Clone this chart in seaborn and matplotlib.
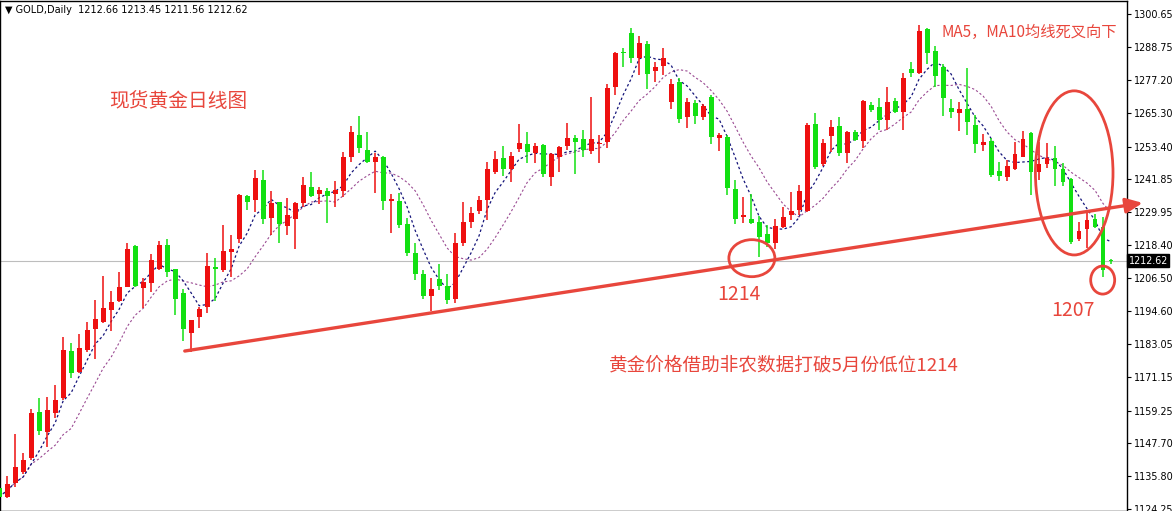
import numpy as np
import pandas as pd
import matplotlib as mpl
mpl.use('Agg')
import matplotlib.pyplot as plt
from matplotlib.patches import Ellipse
import seaborn as sns

# daily OHLC (oldest first)
opens = [1131.7, 1128.5, 1133.5, 1137.4, 1142.4, 1158.8, 1151.6, 1158.4, 1163.8, 1180.5,
         1173.0, 1180.9, 1188.4, 1190.9, 1195.1, 1198.3, 1203.3, 1217.9, 1203.0, 1204.8,
         1209.7, 1218.3, 1209.7, 1201.2, 1186.9, 1192.6, 1196.2, 1210.5, 1209.4, 1215.8,
         1220.4, 1235.8, 1234.3, 1241.5, 1227.9, 1233.6, 1225.1, 1227.6, 1233.3, 1239.0,
         1236.5, 1237.6, 1236.5, 1237.6, 1249.7, 1257.5, 1252.2, 1247.9, 1249.7, 1234.0,
         1234.0, 1225.8, 1215.5, 1208.0, 1200.1, 1206.2, 1203.7, 1199.1, 1219.0, 1226.5,
         1230.4, 1234.3, 1244.3, 1249.3, 1245.4, 1252.5, 1254.3, 1251.1, 1254.0, 1242.5,
         1249.7, 1253.6, 1256.4, 1256.1, 1251.8, 1254.3, 1255.0, 1274.6, 1287.1, 1293.9,
         1285.0, 1290.0, 1280.3, 1282.1, 1269.3, 1276.4, 1263.9, 1268.9, 1263.9, 1271.1,
         1256.4, 1256.8, 1238.3, 1228.3, 1227.6, 1226.5, 1222.2, 1219.0, 1224.7, 1229.0,
         1230.8, 1230.4, 1261.4, 1247.2, 1257.2, 1260.7, 1251.1, 1258.6, 1255.4, 1268.2,
         1267.5, 1262.9, 1269.6, 1265.7, 1281.0, 1279.6, 1295.3, 1287.5, 1281.8, 1267.1,
         1265.4, 1266.8, 1261.1, 1254.0, 1255.4, 1244.7, 1242.5, 1245.4, 1249.7, 1258.2,
         1244.3, 1247.2, 1249.3, 1245.4, 1241.8, 1220.4, 1224.0, 1227.6, 1224.7, 1212.66]
highs = [1132.7, 1136.0, 1150.9, 1144.2, 1159.8, 1163.8, 1164.1, 1168.4, 1185.5, 1183.4,
         1186.6, 1190.9, 1198.7, 1207.3, 1201.9, 1208.7, 1219.0, 1218.3, 1206.5, 1215.1,
         1219.7, 1220.4, 1209.9, 1202.6, 1191.7, 1196.2, 1215.5, 1213.7, 1225.4, 1221.9,
         1236.5, 1236.1, 1245.0, 1245.0, 1237.6, 1233.8, 1235.1, 1233.5, 1242.5, 1244.3,
         1239.0, 1238.6, 1241.1, 1251.5, 1260.7, 1264.3, 1258.6, 1251.1, 1250.0, 1236.5,
         1236.8, 1227.9, 1219.0, 1209.4, 1206.5, 1211.5, 1208.0, 1222.6, 1233.6, 1231.9,
         1235.8, 1247.9, 1251.8, 1253.6, 1251.5, 1261.4, 1258.6, 1254.7, 1254.3, 1251.0,
         1253.6, 1261.8, 1257.5, 1259.3, 1271.1, 1257.5, 1275.7, 1287.1, 1288.5, 1295.7,
         1292.8, 1291.0, 1283.5, 1288.5, 1277.5, 1277.8, 1270.7, 1270.0, 1268.6, 1271.8,
         1258.2, 1257.5, 1241.5, 1235.4, 1236.5, 1228.6, 1225.4, 1227.6, 1231.9, 1237.2,
         1239.7, 1261.8, 1265.4, 1256.1, 1262.9, 1263.9, 1258.8, 1259.3, 1270.0, 1269.3,
         1270.7, 1274.6, 1270.7, 1279.6, 1283.5, 1296.7, 1295.7, 1289.2, 1282.8, 1270.4,
         1269.3, 1281.4, 1264.6, 1257.9, 1256.4, 1247.9, 1248.6, 1255.0, 1258.9, 1258.6,
         1255.0, 1254.7, 1253.6, 1247.5, 1242.2, 1226.5, 1229.7, 1229.4, 1228.3, 1213.45]
lows = [1127.4, 1128.1, 1132.0, 1136.7, 1141.7, 1150.6, 1146.3, 1156.6, 1163.0, 1170.9,
        1172.7, 1180.2, 1177.7, 1190.5, 1187.6, 1198.0, 1203.3, 1203.3, 1195.8, 1201.5,
        1209.4, 1206.9, 1193.3, 1184.1, 1180.2, 1188.7, 1194.1, 1198.3, 1208.7, 1206.9,
        1219.0, 1230.8, 1230.1, 1225.8, 1221.9, 1219.0, 1221.9, 1216.9, 1231.9, 1235.4,
        1232.9, 1226.1, 1231.9, 1235.4, 1247.9, 1251.1, 1247.6, 1236.8, 1230.8, 1222.6,
        1224.4, 1214.4, 1205.8, 1199.1, 1194.8, 1202.3, 1197.3, 1197.6, 1217.9, 1224.4,
        1229.4, 1227.2, 1243.6, 1242.9, 1240.8, 1251.5, 1247.5, 1247.5, 1242.5, 1239.3,
        1244.3, 1252.2, 1243.6, 1249.7, 1250.7, 1247.5, 1252.9, 1271.8, 1281.8, 1283.2,
        1278.9, 1273.9, 1276.4, 1278.9, 1266.8, 1261.8, 1260.0, 1261.4, 1262.9, 1254.3,
        1251.8, 1236.1, 1225.8, 1226.1, 1225.8, 1214.0, 1217.6, 1216.9, 1224.4, 1227.2,
        1229.0, 1230.1, 1245.4, 1246.5, 1251.5, 1250.0, 1247.5, 1255.4, 1252.9, 1265.7,
        1259.3, 1259.3, 1265.4, 1259.3, 1278.2, 1279.3, 1282.8, 1274.6, 1264.3, 1263.6,
        1258.9, 1257.5, 1251.1, 1251.8, 1242.5, 1241.1, 1241.1, 1245.0, 1249.5, 1236.1,
        1241.5, 1245.8, 1239.3, 1239.3, 1218.7, 1219.7, 1217.2, 1224.4, 1206.9, 1211.56]
closes = [1128.5, 1133.1, 1139.2, 1141.7, 1158.4, 1152.0, 1159.5, 1163.0, 1180.9, 1172.7,
          1181.6, 1188.0, 1191.9, 1195.8, 1198.0, 1203.3, 1216.9, 1203.7, 1205.1, 1213.0,
          1218.3, 1208.7, 1199.1, 1188.4, 1191.6, 1195.5, 1210.8, 1209.7, 1216.2, 1216.9,
          1236.1, 1233.6, 1242.2, 1227.6, 1233.3, 1225.8, 1229.0, 1233.3, 1239.7, 1235.8,
          1237.9, 1235.8, 1237.9, 1249.7, 1258.6, 1252.9, 1247.9, 1249.7, 1234.0, 1234.7,
          1225.4, 1215.5, 1208.0, 1200.1, 1202.6, 1203.7, 1198.7, 1219.0, 1226.5, 1229.7,
          1234.3, 1245.4, 1249.0, 1245.4, 1250.0, 1254.7, 1251.5, 1253.6, 1243.6, 1250.7,
          1253.2, 1256.4, 1255.0, 1252.2, 1256.1, 1254.7, 1274.3, 1286.8, 1286.8, 1285.0,
          1290.3, 1279.3, 1281.8, 1285.0, 1275.7, 1263.2, 1269.3, 1264.3, 1267.9, 1256.8,
          1257.5, 1238.6, 1227.6, 1229.0, 1226.1, 1221.2, 1219.0, 1225.1, 1228.3, 1230.4,
          1237.6, 1261.1, 1246.1, 1254.7, 1260.4, 1251.1, 1258.6, 1255.7, 1269.6, 1266.4,
          1262.9, 1269.3, 1265.7, 1277.8, 1279.6, 1294.6, 1286.8, 1278.6, 1270.7, 1265.7,
          1266.8, 1262.2, 1254.3, 1255.0, 1243.3, 1242.9, 1246.5, 1250.7, 1256.1, 1244.3,
          1247.2, 1249.3, 1245.4, 1240.8, 1219.4, 1223.3, 1227.2, 1224.7, 1209.4, 1212.62]

tick_vals = [1300.65, 1288.75, 1277.20, 1265.30, 1253.40, 1241.85, 1229.95, 1218.40,
             1206.50, 1194.60, 1183.05, 1171.15, 1159.25, 1147.70, 1135.80, 1124.25]
last_price = 1212.62
header = "\u25bc GOLD,Daily  1212.66 1213.45 1211.56 1212.62"

bull_col = '#ee1010'
bear_col = '#12e012'
note_col = '#e8463c'

df = pd.DataFrame({'open': opens, 'high': highs, 'low': lows, 'close': closes})
df['x'] = np.arange(len(df))
df['ma5'] = df['close'].rolling(5, min_periods=1).mean()
df['ma10'] = df['close'].rolling(10, min_periods=1).mean()
df['up'] = df['close'] >= df['open']

sns.set_style("white")
plt.rcParams['font.family'] = ['Noto Sans CJK SC', 'DejaVu Sans']

fig = plt.figure(figsize=(11.73, 5.11), dpi=100)
ax = fig.add_axes([0, 0, 1127 / 1173, 510 / 511])

ax.axhline(last_price, color='#bdbdbd', lw=0.8, zorder=1)

# MA lines
sns.lineplot(data=df, x='x', y='ma10', ax=ax, color='#9a4a92', lw=0.8,
             linestyle=(0, (2, 2)), zorder=2)
sns.lineplot(data=df, x='x', y='ma5', ax=ax, color='#14147a', lw=0.9,
             linestyle=(0, (2, 2)), zorder=2)

# candles
cols = np.where(df['up'], bull_col, bear_col)
ax.vlines(df['x'], df['low'], df['high'], colors=cols, lw=1.1, zorder=3)
body_lo = np.minimum(df['open'], df['close'])
body_h = np.maximum(np.abs(df['close'] - df['open']), 0.45)
ax.bar(df['x'], body_h, bottom=body_lo, width=0.62, color=cols, lw=0, zorder=4)

# support line with arrow
ax.annotate('', xy=(142.96, 1233.3), xytext=(23.2, 1180.5), annotation_clip=False,
            arrowprops=dict(arrowstyle='-|>,head_length=1.0,head_width=0.45',
                            color=note_col, lw=2.4, shrinkA=0, shrinkB=0), zorder=6)

for (cx, cy, w, h) in [(94.1, 1213.6, 5.75, 13.2), (134.4, 1244.0, 9.7, 58.5),
                       (137.96, 1205.8, 3.0, 10.0)]:
    ax.add_patch(Ellipse((cx, cy), w, h, fill=False, ec=note_col, lw=2.0, zorder=6))

ax.text(13.8, 1269.3, "现货黄金日线图", color=note_col, fontsize=14.2, va='center', ha='left')
ax.text(117.8, 1294.2, "MA5，MA10均线死叉向下", color=note_col, fontsize=11, va='center', ha='left')
ax.text(92.46, 1200.5, "1214", color=note_col, fontsize=14, va='center', ha='center')
ax.text(134.3, 1195.1, "1207", color=note_col, fontsize=14, va='center', ha='center')
ax.text(98.15, 1175.2, "黄金价格借助非农数据打破5月份低位1214", color=note_col, fontsize=13.4,
        va='center', ha='center')

ax.text(0.004, 0.982, header, transform=ax.transAxes, fontsize=7, color='black',
        va='center', ha='left', family=['DejaVu Sans'])

ax.set_xlim(0.1, 141.0)
ax.set_ylim(1123.47, 1305.28)
ax.set_xticks([])
ax.set_xlabel('')
ax.set_ylabel('')
ax.yaxis.tick_right()
ax.set_yticks(tick_vals)
ax.set_yticklabels([f"{v:.2f}" for v in tick_vals], family=['DejaVu Sans'])
ax.tick_params(axis='y', direction='out', length=3, width=0.8, pad=2, labelsize=6.9,
               colors='black', right=True)
for s in ax.spines.values():
    s.set_color('black')
    s.set_linewidth(1.0)

ax.text(1.0015, last_price, f"{last_price:.2f}", transform=ax.get_yaxis_transform(),
        fontsize=6.9, color='white', va='center', ha='left', family=['DejaVu Sans'],
        bbox=dict(boxstyle='square,pad=0.15', fc='black', ec='black'), zorder=7, clip_on=False)

plt.savefig('out.png', dpi=100)
plt.close()
